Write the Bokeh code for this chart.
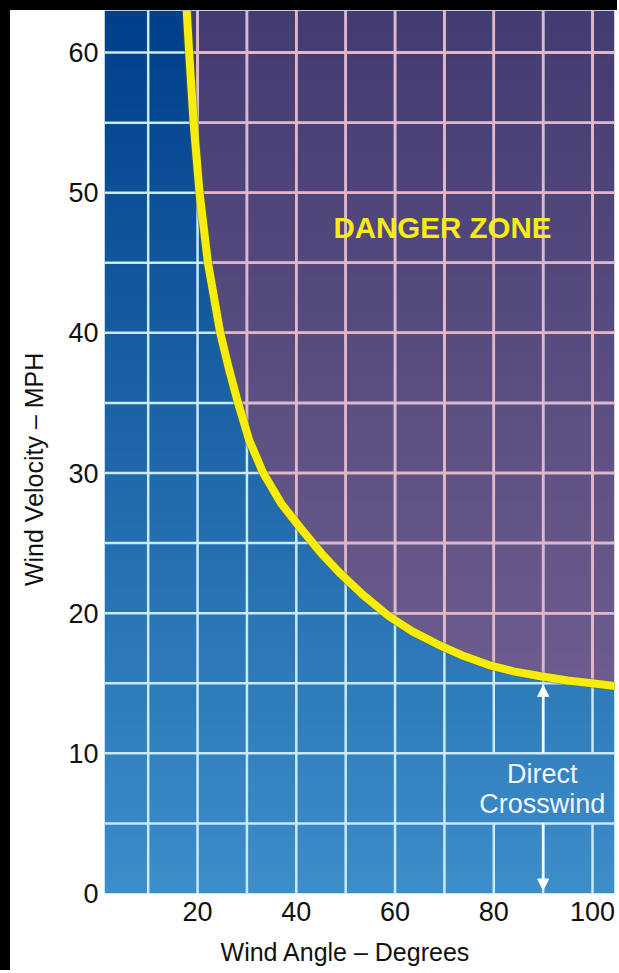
import numpy as np
from bokeh.plotting import figure
from bokeh.layouts import row, column
from bokeh.models import Range1d, FixedTicker, Arrow, NormalHead, Div
from bokeh.core.properties import value
from bokeh.embed import file_html
from bokeh.resources import INLINE

# ---------------- data ----------------
angle = [17.8, 18.3, 19.2, 20.4, 22.1, 24.6, 26.3, 28.2, 30.5, 33.3, 37.0,
         40.8, 45.0, 49.0, 53.5, 58.7, 63.5, 68.5, 73.5, 79.0, 84.0, 89.5,
         95.0, 99.9, 104.7]
velocity = [63.0, 60.0, 55.0, 50.0, 45.0, 40.0, 37.5, 35.0, 32.3, 30.0, 27.8,
            26.1, 24.3, 22.8, 21.3, 19.8, 18.7, 17.8, 17.0, 16.3, 15.85, 15.5,
            15.2, 15.0, 14.8]
x_ticks = [20, 40, 60, 80, 100]
y_ticks = [0, 10, 20, 30, 40, 50, 60]
v_grid = [10, 20, 30, 40, 50, 60, 70, 80, 90, 100]
h_grid = [5, 10, 15, 20, 25, 30, 35, 40, 45, 50, 55, 60]
zone_label = ["DANGER ZONE"]
cross_label = ["Direct", "Crosswind"]
crosswind_angle = 90
crosswind_top = 14.85

# ---------------- layout constants ----------------
X0, X1 = 1.15, 104.45
Y0, Y1 = 0.0, 63.0
FONT = "Liberation Sans"
TEXT_GAP = (5, 10)     # band (mph) left free for the annotation text
TEXT_GAP_FROM = 76     # angle from which vertical lines are interrupted

blue_top = np.array([0, 64, 138], float)
blue_bot = np.array([62, 142, 202], float)
purp_top = np.array([67, 60, 114], float)
purp_bot = np.array([110, 93, 142], float)


def blue_at(v):
    t = np.clip((v - Y0) / (Y1 - Y0), 0, 1)
    return blue_bot[None, :] * (1 - t[:, None]) + blue_top[None, :] * t[:, None]


def purple_at(v):
    t = np.clip((v - 15.0) / (Y1 - 15.0), 0, 1)
    return purp_bot[None, :] * (1 - t[:, None]) + purp_top[None, :] * t[:, None]


p = figure(width=607, height=960, output_backend="svg", toolbar_location=None,
           x_range=Range1d(X0, X1), y_range=Range1d(Y0, Y1),
           min_border_left=94, min_border_right=3, min_border_top=0,
           min_border_bottom=77)
p.outline_line_color = None
p.grid.visible = False
p.background_fill_color = "white"

# background gradient image (blue below curve, purple above)
nx, ny = 520, 890
xs = np.linspace(X0, X1, nx)
ys = np.linspace(Y0, Y1, ny)
curve_at = np.interp(xs, angle, velocity, left=1e6, right=velocity[-1])
danger = ys[:, None] > curve_at[None, :]
bl = blue_at(ys)[:, None, :] * np.ones((1, nx, 1))
pu = purple_at(ys)[:, None, :] * np.ones((1, nx, 1))
col = np.where(danger[:, :, None], pu, bl).astype(np.uint8)
img = np.empty((ny, nx), dtype=np.uint32)
view = img.view(dtype=np.uint8).reshape((ny, nx, 4))
view[:, :, 0] = col[:, :, 0]
view[:, :, 1] = col[:, :, 1]
view[:, :, 2] = col[:, :, 2]
view[:, :, 3] = 255
p.image_rgba(image=[img], x=X0, y=Y0, dw=X1 - X0, dh=Y1 - Y0)

light = "#c9eaf8"
pink = "#e6b4c8"
gw = 2.5

# light vertical grid lines (interrupted behind the annotation text)
vx0, vy0, vx1, vy1 = [], [], [], []
for g in v_grid:
    if g >= TEXT_GAP_FROM:
        vx0 += [g, g]; vy0 += [Y0, TEXT_GAP[1]]
        vx1 += [g, g]; vy1 += [TEXT_GAP[0], Y1]
    else:
        vx0.append(g); vy0.append(Y0); vx1.append(g); vy1.append(Y1)
p.segment(x0=vx0, y0=vy0, x1=vx1, y1=vy1, line_color=light, line_width=gw)

# light horizontal grid lines
p.segment(x0=[X0] * len(h_grid), y0=h_grid, x1=[X1] * len(h_grid), y1=h_grid,
          line_color=light, line_width=gw)

# pink grid portions inside danger zone
vg = np.array(v_grid, float)
vy = np.interp(vg, angle, velocity, left=Y1, right=velocity[-1])
keep = vy < Y1
p.segment(x0=vg[keep], y0=vy[keep], x1=vg[keep], y1=[Y1] * int(keep.sum()),
          line_color=pink, line_width=gw)
hg = np.array(h_grid, float)
hx = np.interp(hg, velocity[::-1], angle[::-1])
keep = hg > min(velocity)
p.segment(x0=hx[keep], y0=hg[keep], x1=[X1] * int(keep.sum()), y1=hg[keep],
          line_color=pink, line_width=gw)

# curve
p.line(angle, velocity, line_color="#5c6a2a", line_width=10, line_alpha=0.45,
       line_join="round")
p.line(angle, velocity, line_color="#f7ec0c", line_width=8, line_join="round")

# arrows
head = dict(size=11, fill_color="white", line_color="white", line_width=1)
p.add_layout(Arrow(end=NormalHead(**head), x_start=crosswind_angle,
                   y_start=TEXT_GAP[1], x_end=crosswind_angle, y_end=crosswind_top,
                   line_color="white", line_width=2.5))
p.add_layout(Arrow(end=NormalHead(**head), x_start=crosswind_angle,
                   y_start=TEXT_GAP[0], x_end=crosswind_angle, y_end=0.25,
                   line_color="white", line_width=2.5))

# texts
p.text(x=[69.6], y=[47.5], text=zone_label, text_font=value(FONT),
       text_font_style="bold", text_font_size="29.5px", text_color="#f7ec14",
       text_align="center", text_baseline="middle")
p.text(x=[crosswind_angle - 0.2] * 2, y=[8.5, 6.35], text=cross_label,
       text_font=value(FONT), text_font_size="27px", text_color="#f2f6ff",
       text_align="center", text_baseline="middle")

# axes
p.xaxis.ticker = FixedTicker(ticks=x_ticks)
p.yaxis.ticker = FixedTicker(ticks=y_ticks)
for ax in (p.xaxis[0], p.yaxis[0]):
    ax.axis_line_color = None
    ax.major_tick_line_color = None
    ax.minor_tick_line_color = None
    ax.major_tick_out = 0
    ax.major_tick_in = 0
    ax.major_label_text_font = FONT
    ax.major_label_text_font_size = "27px"
    ax.major_label_text_color = "#111111"
    ax.axis_label_text_font = FONT
    ax.axis_label_text_font_size = "25px"
    ax.axis_label_text_font_style = "normal"
    ax.axis_label_text_color = "#111111"
p.xaxis.major_label_standoff = 8
p.yaxis.major_label_standoff = 6
p.xaxis.axis_label = "Wind Angle – Degrees" + "\u00a0" * 4
p.yaxis.axis_label = "Wind Velocity – MPH" + "\u00a0" * 5
p.xaxis.axis_label_standoff = 14
p.yaxis.axis_label_standoff = 17

# black frame bars (left and top), as in the reference picture
left_bar = Div(text="", width=10, height=970, margin=0,
               styles={"background-color": "black"})
top_bar = Div(text="", width=607, height=10, margin=0,
              styles={"background-color": "black"})
layout = row(left_bar, column(top_bar, p, spacing=0), spacing=0)

open("out.html", "w").write(file_html(layout, INLINE))
